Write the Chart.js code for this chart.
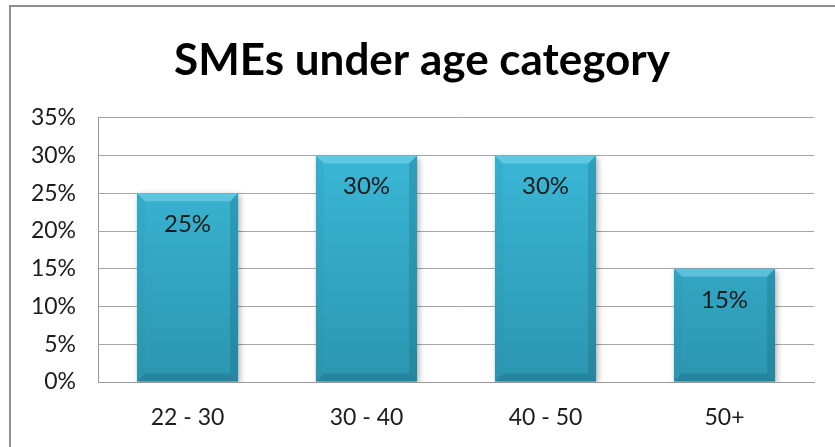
<!DOCTYPE html>
<html>
<head>
<meta charset="utf-8">
<script src="https://cdn.jsdelivr.net/npm/chart.js@4/dist/chart.umd.min.js"></script>
<style>
  html, body { margin: 0; padding: 0; background: #ffffff; }
  #wrap { position: relative; width: 835px; height: 447px; }
</style>
</head>
<body>
<div id="wrap"><canvas id="c" width="835" height="447"></canvas></div>
<script>
const categories = ["22 - 30", "30 - 40", "40 - 50", "50+"];
const shareValues = [25, 30, 30, 15];
const yTickMax = 35;
const yTickStep = 5;
const chartTitle = "SMEs under age category";

const FONT = "Lato, 'Open Sans', sans-serif";

const frame = {
  id: 'frame',
  beforeDraw(chart) {
    const ctx = chart.ctx;
    ctx.save();
    ctx.fillStyle = '#ffffff';
    ctx.fillRect(0, 0, chart.width, chart.height);
    ctx.strokeStyle = '#8e8e8e';
    ctx.lineWidth = 2;
    ctx.beginPath();
    ctx.moveTo(10, chart.height);
    ctx.lineTo(10, 6);
    ctx.lineTo(chart.width, 6);
    ctx.stroke();
    ctx.restore();
  }
};

const bevel = {
  id: 'bevel',
  beforeDatasetsDraw(chart) {
    const ctx = chart.ctx;
    ctx.save();
    ctx.shadowColor = 'rgba(0,0,0,0.3)';
    ctx.shadowBlur = 6;
    ctx.shadowOffsetX = 2;
    ctx.shadowOffsetY = 2;
  },
  afterDatasetsDraw(chart) {
    const ctx = chart.ctx;
    ctx.restore();
    const meta = chart.getDatasetMeta(0);
    ctx.save();
    meta.data.forEach((bar) => {
      const p = bar.getProps(['x', 'y', 'base', 'width'], true);
      const l = p.x - p.width / 2, r = p.x + p.width / 2, t = p.y, b = p.base;
      const d = 8;
      ctx.fillStyle = 'rgba(140,225,245,0.45)';
      ctx.beginPath();
      ctx.moveTo(l, t); ctx.lineTo(r, t); ctx.lineTo(r - d, t + d); ctx.lineTo(l + d, t + d); ctx.closePath();
      ctx.fill();
      ctx.fillStyle = 'rgba(40,140,170,0.15)';
      ctx.beginPath();
      ctx.moveTo(l, t); ctx.lineTo(l + d, t + d); ctx.lineTo(l + d, b - d); ctx.lineTo(l, b); ctx.closePath();
      ctx.fill();
      ctx.fillStyle = 'rgba(20,90,115,0.25)';
      ctx.beginPath();
      ctx.moveTo(r, t); ctx.lineTo(r - d, t + d); ctx.lineTo(r - d, b - d); ctx.lineTo(r, b); ctx.closePath();
      ctx.fill();
      ctx.fillStyle = 'rgba(20,85,110,0.28)';
      ctx.beginPath();
      ctx.moveTo(l, b); ctx.lineTo(r, b); ctx.lineTo(r - d, b - d); ctx.lineTo(l + d, b - d); ctx.closePath();
      ctx.fill();
    });
    ctx.fillStyle = '#1c1c1c';
    ctx.font = "24px " + FONT;
    ctx.textAlign = 'center';
    ctx.textBaseline = 'middle';
    meta.data.forEach((bar, i) => {
      const p = bar.getProps(['x', 'y'], true);
      ctx.fillText(shareValues[i] + '%', p.x, p.y + 31);
    });
    ctx.restore();
  }
};

const ctx = document.getElementById('c').getContext('2d');
new Chart(ctx, {
  type: 'bar',
  data: {
    labels: categories,
    datasets: [{
      data: shareValues,
      backgroundColor: (c) => {
        const area = c.chart.chartArea;
        if (!area) return '#34aecf';
        const g = c.chart.ctx.createLinearGradient(0, area.top, 0, area.bottom);
        g.addColorStop(0, '#3cbcdc');
        g.addColorStop(1, '#2c96b0');
        return g;
      },
      borderWidth: 0,
      barPercentage: 0.565,
      categoryPercentage: 1.0
    }]
  },
  options: {
    responsive: false,
    animation: false,
    devicePixelRatio: 1,
    layout: { padding: { left: 30, right: 21, top: 0, bottom: 0 } },
    plugins: {
      legend: { display: false },
      tooltip: { enabled: false },
      title: {
        display: true,
        text: chartTitle,
        color: '#000000',
        font: { family: FONT, size: 44, weight: 'bold', lineHeight: 1.2 },
        padding: { top: 34, bottom: 31 }
      }
    },
    scales: {
      x: {
        grid: { display: false, drawTicks: false },
        border: { display: true, color: '#999999', width: 1 },
        ticks: { color: '#1c1c1c', font: { family: FONT, size: 23 }, padding: 22 },
        afterFit(scale) { scale.height = 65; }
      },
      y: {
        min: 0,
        max: yTickMax,
        grid: { color: '#a6a6a6', lineWidth: 1, drawTicks: false },
        border: { display: true, color: '#999999', width: 1 },
        ticks: {
          stepSize: yTickStep,
          color: '#1c1c1c',
          font: { family: FONT, size: 23 },
          padding: 22,
          callback: (v) => v + '%'
        },
        afterFit(scale) { scale.width = 68; }
      }
    }
  },
  plugins: [frame, bevel]
});
</script>
</body>
</html>
